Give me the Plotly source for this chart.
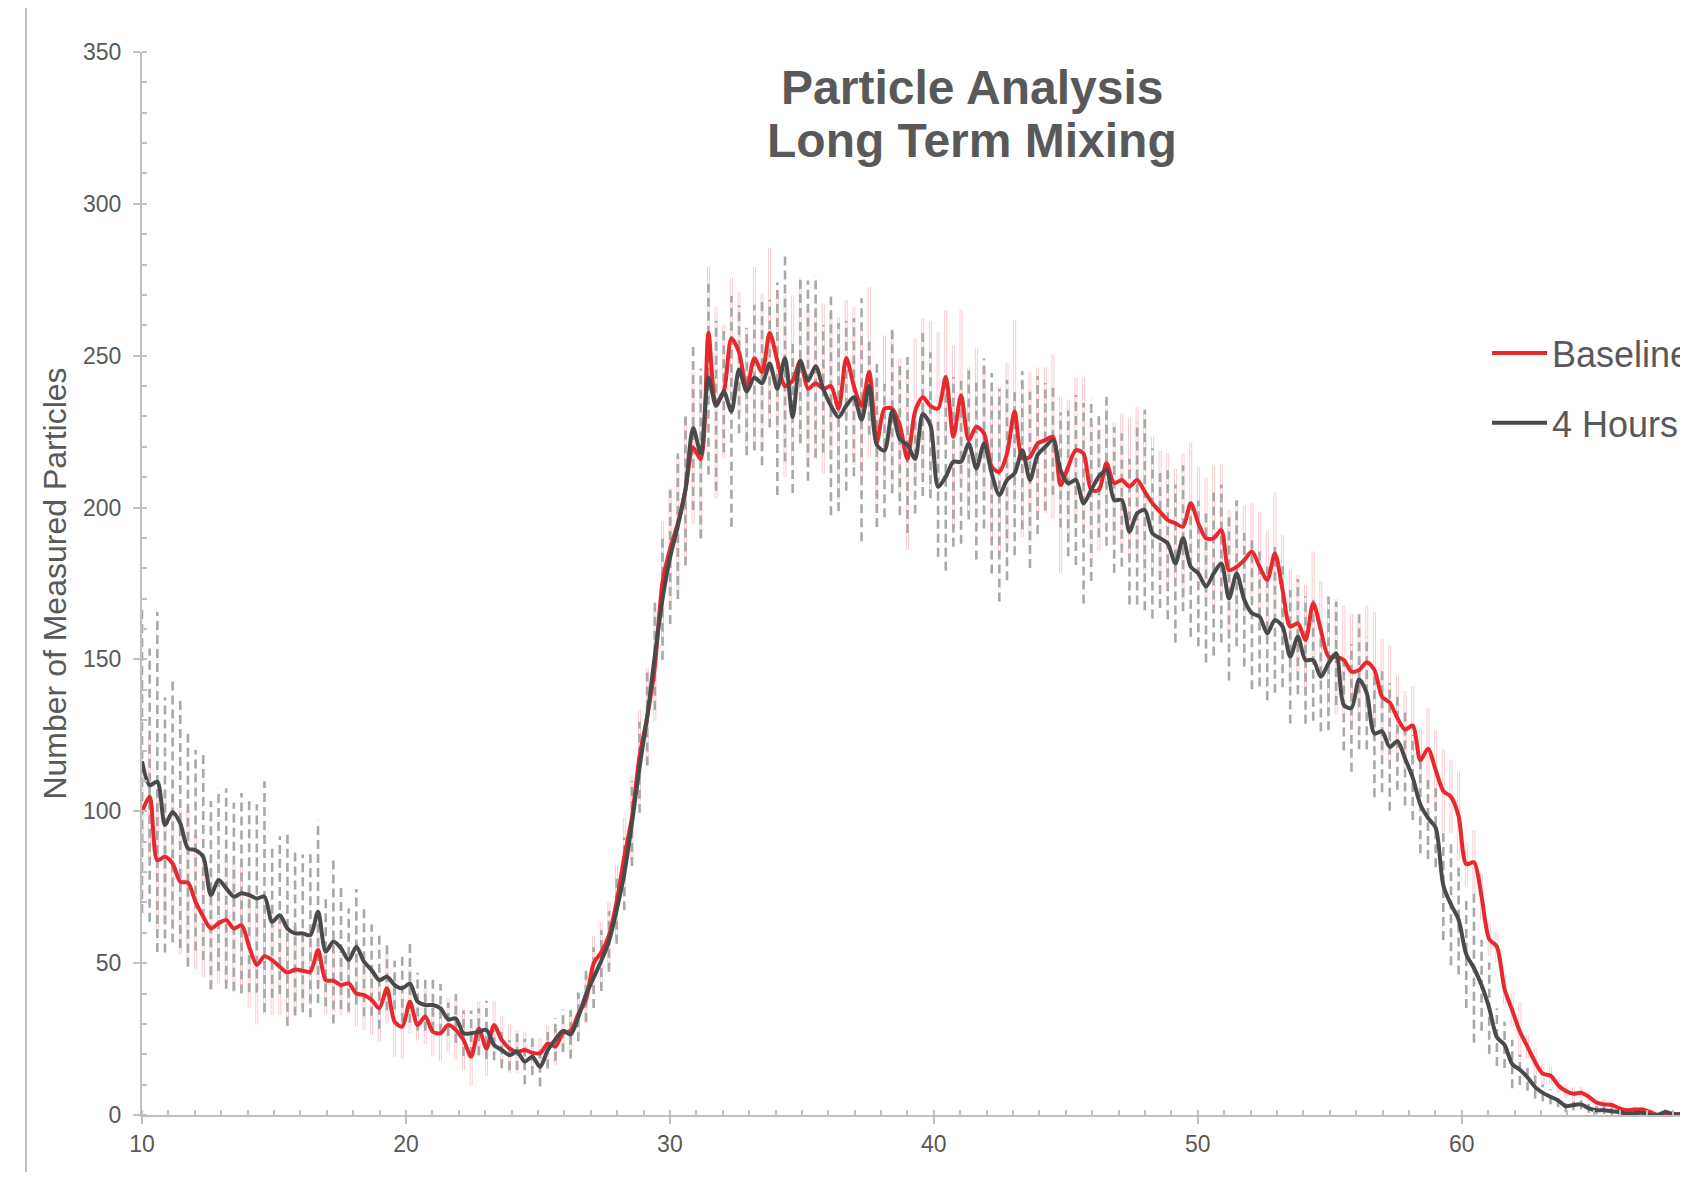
import plotly.graph_objects as go

# particle size channels: first channel and channel width
BIN_START = 10.0
BIN_WIDTH = 0.29

baseline = [
    99.8, 104.8, 83.9, 85.0, 82.8, 76.8, 76.5, 70.2, 65.3, 61.4,
    63.1, 64.2, 61.4, 62.5, 55.4, 49.4, 52.3, 51.0, 48.8, 46.9,
    47.9, 47.5, 47.2, 54.3, 44.4, 44.2, 42.8, 43.3, 40.0, 39.5,
    37.9, 35.1, 41.7, 30.7, 29.1, 37.3, 29.6, 32.4, 27.4, 26.9,
    29.6, 28.0, 24.7, 19.2, 28.5, 21.9, 29.6, 24.7, 21.9, 20.8,
    21.4, 20.5, 20.3, 23.5, 22.5, 27.0, 27.7, 33.2, 37.9, 49.9,
    53.6, 59.1, 70.2, 84.9, 97.9, 118.2, 131.1, 147.7, 175.4, 186.5,
    194.8, 205.9, 219.7, 216.0, 257.5, 234.5, 238.2, 255.7, 251.1, 239.1,
    249.2, 244.6, 257.5, 248.3, 240.0, 241.8, 248.3, 239.1, 240.9, 239.1,
    240.0, 232.6, 249.2, 240.0, 233.5, 244.6, 221.5, 232.6, 232.6, 227.1,
    216.0, 231.7, 236.3, 233.5, 232.6, 243.0, 223.3, 237.0, 222.2, 226.6,
    224.4, 213.5, 211.8, 217.8, 231.6, 216.2, 216.7, 221.1, 222.2, 223.3,
    207.4, 213.5, 218.9, 217.8, 205.8, 205.8, 214.6, 208.0, 209.1, 206.9,
    209.1, 205.2, 201.4, 198.6, 195.9, 194.8, 193.7, 201.4, 194.8, 189.9,
    189.9, 192.6, 179.4, 180.5, 182.7, 185.5, 180.5, 176.2, 184.9, 172.9,
    160.8, 161.9, 156.4, 168.5, 159.7, 150.9, 150.9, 149.8, 146.0, 146.5,
    149.1, 146.5, 137.7, 135.8, 130.7, 126.9, 128.2, 116.8, 120.6, 113.6,
    106.7, 104.8, 98.4, 82.6, 83.2, 71.9, 57.9, 55.4, 41.5, 34.5,
    27.5, 22.5, 17.4, 13.6, 13.0, 9.8, 7.9, 7.0, 7.3, 6.0,
    4.1, 3.5, 3.3, 2.2, 1.6, 1.8, 1.8, 1.0, 0.0, 0.6,
    0.3, 0.2, 0.2,
]

hours4 = [
    116.5, 108.6, 109.7, 95.5, 99.8, 96.0, 87.8, 87.2, 85.0, 72.4,
    77.4, 74.6, 71.9, 73.0, 72.4, 71.3, 71.9, 63.6, 65.8, 61.4,
    59.8, 59.8, 59.2, 66.9, 53.8, 57.1, 54.9, 51.0, 55.4, 50.5,
    47.7, 44.4, 45.5, 42.8, 41.7, 43.3, 37.3, 36.2, 36.2, 35.1,
    31.5, 31.8, 26.9, 26.9, 27.4, 28.0, 23.0, 21.4, 19.7, 20.8,
    17.6, 19.2, 15.9, 21.3, 24.9, 27.7, 26.5, 32.3, 39.7, 45.2,
    50.8, 57.2, 67.4, 79.4, 96.0, 114.5, 131.1, 151.4, 169.9, 183.7,
    193.9, 205.9, 226.2, 217.8, 242.8, 233.5, 238.2, 231.7, 245.5, 238.2,
    242.8, 240.9, 247.4, 239.1, 249.2, 229.8, 248.3, 241.8, 246.5, 239.1,
    233.5, 229.8, 233.5, 236.3, 228.9, 240.0, 220.6, 218.8, 231.7, 222.5,
    220.6, 216.0, 230.8, 227.1, 206.8, 210.2, 215.1, 215.1, 221.1, 212.9,
    221.1, 211.3, 204.1, 209.1, 211.3, 218.9, 209.1, 217.3, 220.0, 222.2,
    212.4, 208.0, 209.1, 201.4, 205.8, 210.2, 212.4, 202.5, 202.5, 192.1,
    198.1, 199.2, 191.5, 189.9, 188.2, 181.6, 189.9, 180.5, 178.3, 174.0,
    178.3, 181.6, 170.1, 178.3, 169.6, 165.2, 164.1, 158.6, 163.0, 160.8,
    150.9, 157.5, 149.8, 149.8, 144.3, 148.7, 152.0, 135.0, 134.0, 143.4,
    138.9, 125.6, 126.3, 121.2, 123.1, 117.4, 111.1, 102.2, 97.8, 94.6,
    75.6, 69.3, 64.3, 52.9, 48.4, 42.7, 35.2, 25.6, 23.1, 16.8,
    14.9, 12.4, 9.2, 7.3, 6.0, 4.8, 2.9, 3.3, 3.5, 2.2,
    1.6, 1.6, 1.2, 1.0, 0.3, 0.6, 0.7, 0.0, 0.0, 1.0,
    0.3, 0.3, 0.2,
]

# standard deviations (half length of each error bar)
baseline_sd = [
    15, 20, 22, 22, 22, 24, 25, 22, 20, 20,
    20, 21, 21, 21, 20, 19.5, 19, 18, 16, 15,
    14, 12, 11, 12, 11, 10, 10, 10, 11, 11.5,
    11.5, 11, 11.5, 11.5, 10.5, 10.5, 5, 9, 8, 9,
    9, 10, 10, 9.5, 9, 9, 8, 8, 8, 7,
    6, 5, 5, 6, 6, 6, 7, 7, 8, 9,
    10, 11, 12, 13, 14, 15, 16, 18, 20, 20,
    22, 24, 25, 26, 22, 31.5, 22, 20, 20, 20,
    30, 26, 28, 22, 30, 28, 27.5, 26, 25, 28,
    24, 30, 19, 26, 24, 28, 22, 24, 26, 22,
    30, 24, 26, 28, 25, 22, 30, 28, 24, 26,
    22, 24, 28, 30, 30, 26, 28, 25, 24, 27,
    29, 22, 24, 25, 22, 20, 18, 20, 22, 22.5,
    24, 26, 22, 20, 22, 18, 24, 20, 18.6, 20,
    24, 21.6, 20, 22, 18, 16, 18, 16, 20, 18,
    19, 16, 18, 17, 16, 18, 19, 18, 19, 16.5,
    18.4, 19, 19, 19, 14, 12.7, 13, 10.4, 13.5, 13,
    13.6, 12, 14.6, 7, 10.5, 7.6, 5.4, 5, 5, 5.4,
    9.5, 3.8, 4.5, 3.2, 2.8, 2.5, 2.3, 2.1, 2, 1.8,
    1.6, 1.5, 1.4, 1.3, 1.2, 1.1, 1, 1, 0.9, 0.8,
    0.8, 0.7, 0.6,
]

hours4_sd = [
    50, 45, 56, 42, 43, 41, 39, 33, 34, 31,
    30, 33, 31, 33, 32, 31, 38, 25, 26, 32,
    27, 26, 27, 30, 18, 27, 20, 17, 19, 18,
    15, 16, 11, 8, 11, 13, 9.5, 8.5, 8.5, 8,
    5.5, 8, 7.5, 7.5, 7.7, 9.6, 5, 6, 5, 6,
    7.5, 6, 6.5, 6, 7, 7, 8, 8, 9, 10,
    10, 10, 11, 12, 14, 15, 16, 18, 20, 22,
    24, 25, 27, 28, 32, 28, 20, 38, 21, 21,
    24, 27, 21, 35, 34, 25, 27, 33, 30, 21,
    36, 31, 28, 26, 40, 16, 27, 22, 27, 25,
    29, 18, 27, 24, 23, 31, 28, 27, 25, 30,
    28, 33, 35, 33, 27, 26, 29, 26, 21, 18,
    19, 24, 28, 33, 30, 20, 25, 24, 22, 24,
    30, 33, 28, 23, 25, 26, 24, 23, 24, 25,
    27, 26, 27, 24, 22, 25, 23, 22, 24, 20,
    22, 19, 21, 20, 18, 22, 17, 15, 21, 23,
    18.5, 21, 20, 21, 16, 15.5, 14, 16, 13.5, 13,
    18, 20, 18, 17.7, 24.6, 15, 15, 9.5, 7.6, 8,
    5, 4.4, 3.8, 2.8, 2.5, 2.2, 2, 1.8, 1.6, 1.5,
    1.4, 1.3, 1.2, 1.1, 1, 1, 0.9, 0.9, 0.8, 0.8,
    0.7, 0.7, 0.6,
]

sizes = [BIN_START + BIN_WIDTH * k for k in range(len(baseline))]

RED = "#e9282e"
DARK = "#4a4a4a"
TEXT = "#595959"
AXIS = "#bfbfbf"
FONT = "Liberation Sans, Arial, sans-serif"


def bar_segments(values, spread):
    # vertical error bars as separate segments, broken with None
    xs, ys = [], []
    for x, v, s in zip(sizes, values, spread):
        xs += [x, x, None]
        ys += [max(v - s, 0), v + s, None]
    return xs, ys


fig = go.Figure()

bx, by = bar_segments(baseline, baseline_sd)
fig.add_trace(go.Scatter(x=bx, y=by, mode="lines", showlegend=False, hoverinfo="skip",
                         line=dict(color="#fac9cb", width=3)))
fig.add_trace(go.Scatter(x=bx, y=by, mode="lines", showlegend=False, hoverinfo="skip",
                         line=dict(color="#ffffff", width=1.1)))

hx, hy = bar_segments(hours4, hours4_sd)
fig.add_trace(go.Scatter(x=hx, y=hy, mode="lines", showlegend=False, hoverinfo="skip",
                         line=dict(color="#a8a8a8", width=2.6, dash="9px,5px")))

fig.add_trace(go.Scatter(x=sizes, y=baseline, mode="lines", name="Baseline",
                         legendgroup="a",
                         line=dict(color=RED, width=4, shape="spline", smoothing=0.8)))
fig.add_trace(go.Scatter(x=sizes, y=hours4, mode="lines", name="4 Hours",
                         legendgroup="b",
                         line=dict(color=DARK, width=4, shape="spline", smoothing=0.8)))

fig.add_annotation(text="<b>Particle Analysis</b>", xref="paper", yref="paper",
                   x=0.537, y=0.967, yanchor="middle", showarrow=False,
                   font=dict(family=FONT, size=48, color=TEXT))
fig.add_annotation(text="<b>Long Term Mixing</b>", xref="paper", yref="paper",
                   x=0.537, y=0.917, yanchor="middle", showarrow=False,
                   font=dict(family=FONT, size=48, color=TEXT))

# left border of the chart area
fig.add_shape(type="line", xref="paper", yref="paper", x0=-0.075, x1=-0.075,
              y0=-0.2, y1=1.2, line=dict(color=AXIS, width=2))

fig.update_layout(
    width=1680, height=1164,
    margin=dict(l=134, r=0, t=44, b=57, autoexpand=False),
    plot_bgcolor="white", paper_bgcolor="white",
    font=dict(family=FONT, color=TEXT),
    legend=dict(x=0.870, y=0.745, xanchor="left", yanchor="top",
                font=dict(size=36, color=TEXT), bgcolor="rgba(0,0,0,0)",
                traceorder="grouped", tracegroupgap=20, itemwidth=55),
)

fig.update_xaxes(range=[10, 68.57], dtick=10, showgrid=False, zeroline=False,
                 showline=True, linecolor=AXIS, linewidth=2,
                 ticks="outside", ticklen=7, tickwidth=2, tickcolor=AXIS,
                 tickfont=dict(size=23, color=TEXT), ticklabelstandoff=0,
                 minor=dict(dtick=1, ticks="inside", ticklen=5, tickwidth=1.5,
                            tickcolor=AXIS))
fig.update_yaxes(range=[0, 350], dtick=50, showgrid=False, zeroline=False,
                 showline=True, linecolor=AXIS, linewidth=2,
                 ticks="outside", ticklen=7, tickwidth=2, tickcolor=AXIS,
                 tickfont=dict(size=23, color=TEXT), ticklabelstandoff=7,
                 minor=dict(dtick=10, ticks="inside", ticklen=5, tickwidth=1.5,
                            tickcolor=AXIS),
                 title=dict(text="Number of Measured Particles",
                            font=dict(size=32, color=TEXT), standoff=7))

fig.write_html("out.html")
